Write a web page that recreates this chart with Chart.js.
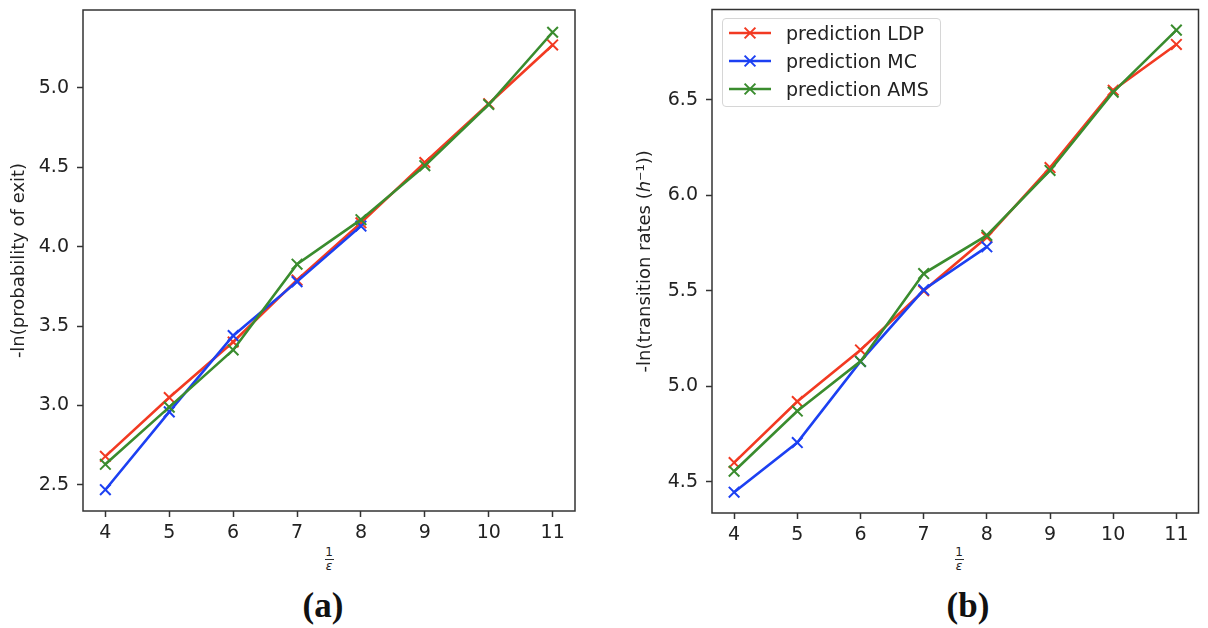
<!DOCTYPE html>
<html>
<head>
<meta charset="utf-8">
<script src="https://cdn.jsdelivr.net/npm/chart.js@4.4.1/dist/chart.umd.min.js"></script>
<style>
  html, body { margin: 0; padding: 0; background: #fff; }
  #wrap { position: relative; width: 1208px; height: 628px; overflow: hidden; background: #fff; }
  canvas { position: absolute; }
  .frac { position: absolute; font-family: 'DejaVu Sans', sans-serif; font-size: 12px; color: #222; text-align: center; line-height: 11px; }
  .frac .bar { display: block; width: 9px; height: 1px; background: #333; margin: 1px auto 1px auto; }
  .panel { position: absolute; font-family: 'Liberation Serif', 'DejaVu Serif', serif; font-weight: bold; font-size: 35px; color: #111; transform: translate(-50%, -50%); }
  #legend { position: absolute; left: 722px; top: 18px; width: 219px; height: 89px; border: 1px solid #d6d6d6; border-radius: 4px; background: rgba(255,255,255,0.85); box-sizing: border-box; }
  .lrow { position: absolute; left: 0; height: 20px; }
  .lrow svg { position: absolute; left: 6px; top: 2px; }
  .lrow span { position: absolute; left: 63px; top: -2px; font-family: 'DejaVu Sans', sans-serif; font-size: 19px; color: #222; white-space: nowrap; line-height: 24px; }
</style>
</head>
<body>
<div id="wrap">
  <canvas id="cA" width="600" height="545" style="left:0;top:0;width:600px;height:545px;"></canvas>
  <canvas id="cB" width="608" height="545" style="left:600px;top:0;width:608px;height:545px;"></canvas>
  <div class="frac" style="left:322px;top:547px;width:14px;"><span>1</span><span class="bar"></span><span style="font-style:italic">ε</span></div>
  <div class="frac" style="left:952px;top:547px;width:14px;"><span>1</span><span class="bar"></span><span style="font-style:italic">ε</span></div>
  <div class="panel" style="left:323px;top:606px;">(a)</div>
  <div class="panel" style="left:968px;top:606px;">(b)</div>
  <div id="legend"></div>
</div>
<script>
// ---- data ----
const xValues = [4, 5, 6, 7, 8, 9, 10, 11];
const xTicks = [4, 5, 6, 7, 8, 9, 10, 11];

const exitLDP = [2.68, 3.05, 3.40, 3.79, 4.15, 4.53, 4.90, 5.27];
const exitMC  = [2.47, 2.96, 3.44, 3.78, 4.13];
const exitAMS = [2.63, 2.99, 3.35, 3.89, 4.17, 4.51, 4.895, 5.35];
const exitTicks = [2.5, 3.0, 3.5, 4.0, 4.5, 5.0];

const rateLDP = [4.60, 4.92, 5.19, 5.50, 5.78, 6.145, 6.55, 6.79];
const rateMC  = [4.445, 4.705, 5.13, 5.505, 5.73];
const rateAMS = [4.555, 4.87, 5.13, 5.59, 5.79, 6.13, 6.54, 6.865];
const rateTicks = [4.5, 5.0, 5.5, 6.0, 6.5];

const seriesNames = ['prediction LDP', 'prediction MC', 'prediction AMS'];
const seriesColors = ['#f23a22', '#1c40f2', '#3a8c2e'];

// ---- helpers ----
Chart.defaults.font.family = "'DejaVu Sans', sans-serif";
Chart.defaults.color = '#222';

function pts(arr) { return arr.map((v, i) => ({ x: xValues[i], y: v })); }

function makeDatasets(ldp, mc, ams) {
  return [ldp, mc, ams].map((arr, i) => ({
    label: seriesNames[i],
    data: pts(arr),
    borderColor: seriesColors[i],
    backgroundColor: seriesColors[i],
    borderWidth: 2.6,
    pointStyle: 'crossRot',
    pointRadius: 7.5,
    pointHoverRadius: 7.5,
    pointBorderWidth: 2,
    pointBorderColor: seriesColors[i],
    fill: false,
    tension: 0,
    order: 3 - i
  }));
}

const framePlugin = {
  id: 'frame',
  afterDraw(chart) {
    const a = chart.chartArea, ctx = chart.ctx;
    ctx.save();
    ctx.strokeStyle = '#333';
    ctx.lineWidth = 1.5;
    ctx.strokeRect(a.left, a.top, a.right - a.left, a.bottom - a.top);
    ctx.restore();
  }
};

function zeroPad(s) { s.paddingTop = 0; s.paddingBottom = 0; s.paddingLeft = 0; s.paddingRight = 0; }

function makeChart(id, datasets, yTicks, yMin, yMax, yTitle, pad, yWidth, xHeight, titlePad) {
  return new Chart(document.getElementById(id), {
    type: 'line',
    data: { datasets },
    options: {
      responsive: false,
      devicePixelRatio: 1,
      animation: false,
      events: [],
      layout: { padding: pad },
      plugins: { legend: { display: false }, tooltip: { enabled: false } },
      scales: {
        x: {
          type: 'linear',
          min: 3.65, max: 11.35,
          afterBuildTicks: s => { s.ticks = xTicks.map(v => ({ value: v })); },
          afterFit: s => { s.height = xHeight; zeroPad(s); },
          border: { display: false },
          grid: { drawOnChartArea: false, drawTicks: true, tickLength: 6, tickColor: '#333', tickWidth: 1.5 },
          ticks: { font: { size: 19 }, color: '#222', padding: 5, maxRotation: 0, autoSkip: false,
                   callback: v => String(v) }
        },
        y: {
          type: 'linear',
          min: yMin, max: yMax,
          afterBuildTicks: s => { s.ticks = yTicks.map(v => ({ value: v })); },
          afterFit: s => { s.width = yWidth; zeroPad(s); },
          border: { display: false },
          grid: { drawOnChartArea: false, drawTicks: true, tickLength: 6, tickColor: '#333', tickWidth: 1.5 },
          ticks: { font: { size: 19 }, color: '#222', padding: 8, autoSkip: false,
                   callback: v => v.toFixed(1) },
          title: { display: true, text: yTitle, font: { size: 18 }, color: '#222', padding: { top: titlePad, bottom: 0 } }
        }
      }
    },
    plugins: [framePlugin]
  });
}

makeChart('cA', makeDatasets(exitLDP, exitMC, exitAMS), exitTicks, 2.336, 5.49,
  '-ln(probability of exit)', { top: 10, right: 25, left: 0, bottom: 0 }, 83, 34, 9);

makeChart('cB', makeDatasets(rateLDP, rateMC, rateAMS), rateTicks, 4.336, 6.973,
  '-ln(transition rates (ℎ⁻¹))', { top: 8, right: 1, left: 0, bottom: 0 }, 112, 32, 35);

// ---- legend (HTML, real text) ----
const legend = document.getElementById('legend');
const rowTops = [4, 32, 60];
seriesNames.forEach((name, i) => {
  const row = document.createElement('div');
  row.className = 'lrow';
  row.style.top = rowTops[i] + 'px';
  row.innerHTML =
    '<svg width="44" height="16" viewBox="0 0 44 16">' +
    '<line x1="0" y1="8" x2="42" y2="8" stroke="' + seriesColors[i] + '" stroke-width="2.6"/>' +
    '<line x1="15.6" y1="2.6" x2="26.4" y2="13.4" stroke="' + seriesColors[i] + '" stroke-width="2"/>' +
    '<line x1="15.6" y1="13.4" x2="26.4" y2="2.6" stroke="' + seriesColors[i] + '" stroke-width="2"/>' +
    '</svg><span>' + name + '</span>';
  legend.appendChild(row);
});
</script>
</body>
</html>
